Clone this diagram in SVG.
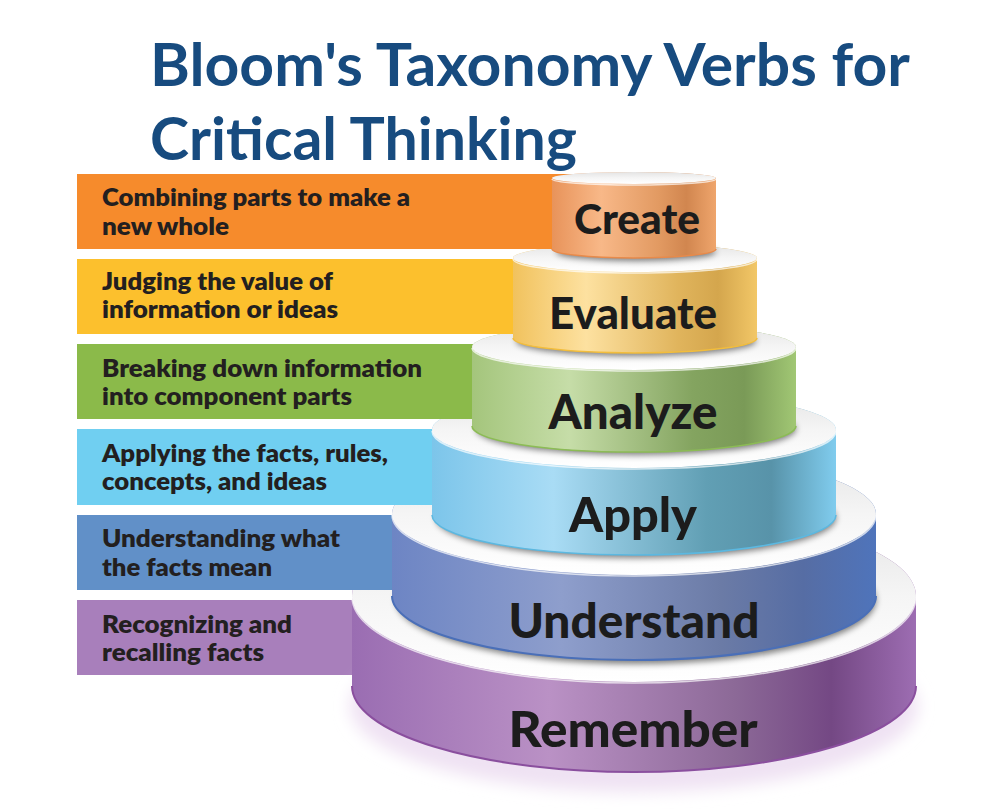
<svg xmlns="http://www.w3.org/2000/svg" width="1000" height="809" viewBox="0 0 1000 809">
<defs>
<style>
.title{font-family:Lato,"Open Sans","Liberation Sans",sans-serif;font-weight:700;font-size:60px;fill:#174b7f}
.desc{font-family:Lato,"Liberation Sans",sans-serif;font-weight:800;font-size:24px;fill:#231f20}
.lbl{font-family:Lato,"Liberation Sans",sans-serif;font-weight:900;fill:#1c1c1c;text-anchor:middle}
.top{fill:url(#gTop)}
.rim{fill:none;stroke:#ffffff;stroke-opacity:0.7;stroke-width:1.5}
.shadow{fill:#000;opacity:0.5;filter:url(#blur3)}
</style>
<filter id="blur3" x="-20%" y="-50%" width="140%" height="200%"><feGaussianBlur stdDeviation="3"/></filter>
<filter id="blur8" x="-20%" y="-50%" width="140%" height="200%"><feGaussianBlur stdDeviation="8"/></filter>
<linearGradient id="gTop" x1="0" y1="0" x2="0" y2="1">
<stop offset="0" stop-color="#e4e4e4"/><stop offset="0.5" stop-color="#f5f5f5"/><stop offset="1" stop-color="#ffffff"/>
</linearGradient>
<linearGradient id="gCreate" x1="0" y1="0" x2="1" y2="0">
<stop offset="0" stop-color="#e8935a"/><stop offset="0.3" stop-color="#f8b888"/><stop offset="0.65" stop-color="#e29a62"/><stop offset="0.82" stop-color="#d1864f"/><stop offset="1" stop-color="#efa56c"/>
</linearGradient>
<linearGradient id="gEvaluate" x1="0" y1="0" x2="1" y2="0">
<stop offset="0" stop-color="#f1c25d"/><stop offset="0.3" stop-color="#fde1a0"/><stop offset="0.68" stop-color="#e0b45c"/><stop offset="0.84" stop-color="#d4a64d"/><stop offset="1" stop-color="#f2c767"/>
</linearGradient>
<linearGradient id="gAnalyze" x1="0" y1="0" x2="1" y2="0">
<stop offset="0" stop-color="#a4c57c"/><stop offset="0.3" stop-color="#c6dda8"/><stop offset="0.68" stop-color="#84a460"/><stop offset="0.84" stop-color="#7a9a57"/><stop offset="1" stop-color="#a1c774"/>
</linearGradient>
<linearGradient id="gApply" x1="0" y1="0" x2="1" y2="0">
<stop offset="0" stop-color="#7cc5ea"/><stop offset="0.3" stop-color="#a9dcf5"/><stop offset="0.68" stop-color="#619fb4"/><stop offset="0.84" stop-color="#5893a9"/><stop offset="1" stop-color="#80ccee"/>
</linearGradient>
<linearGradient id="gUnderstand" x1="0" y1="0" x2="1" y2="0">
<stop offset="0" stop-color="#6d85c4"/><stop offset="0.35" stop-color="#8e9ecc"/><stop offset="0.68" stop-color="#6b7ba6"/><stop offset="0.85" stop-color="#566da4"/><stop offset="1" stop-color="#4f74bb"/>
</linearGradient>
<linearGradient id="gRemember" x1="0" y1="0" x2="1" y2="0">
<stop offset="0" stop-color="#9a6db2"/><stop offset="0.35" stop-color="#ba91c5"/><stop offset="0.68" stop-color="#8c6997"/><stop offset="0.85" stop-color="#744884"/><stop offset="1" stop-color="#9d6db2"/>
</linearGradient>
</defs>
<rect width="1000" height="809" fill="#ffffff"/>

<g id="title">
<text class="title" x="150" y="86" textLength="760" lengthAdjust="spacingAndGlyphs">Bloom's Taxonomy Verbs for</text>
<text class="title" x="150" y="160" textLength="427" lengthAdjust="spacingAndGlyphs">Critical Thinking</text>
</g>

<g id="connectors"></g>

<g id="tier-remember">
<rect x="77" y="600" width="300" height="75" fill="#a87fbb"/>
<ellipse cx="634" cy="706" rx="284" ry="86" fill="#efe2f3" filter="url(#blur8)"/>
<path d="M352,596 L352,686 A282,86 0 0 0 916,686 L916,596 A282,86 0 0 0 352,596 Z" fill="url(#gRemember)"/>
<path d="M352,686 A282,86 0 0 0 916,686" fill="none" stroke="#8a4f9e" stroke-width="2"/>
<ellipse class="top" cx="634" cy="596" rx="282" ry="86"/>
<path class="rim" d="M352,597 A282,86 0 0 0 916,597"/>
<text class="lbl" x="633" y="747" font-size="50" textLength="249" lengthAdjust="spacingAndGlyphs">Remember</text>
</g>

<g id="tier-understand">
<rect x="77" y="515" width="340" height="75" fill="#6190c8"/>
<ellipse class="shadow" cx="636" cy="600" rx="240" ry="64"/>
<path d="M392,514 L392,596 A242,64 0 0 0 876,596 L876,514 A242,61 0 0 0 392,514 Z" fill="url(#gUnderstand)"/>
<path d="M392,596 A242,64 0 0 0 876,596" fill="none" stroke="#4a6fb8" stroke-width="2"/>
<ellipse class="top" cx="634" cy="514" rx="242" ry="61"/>
<path class="rim" d="M392,515 A242,61 0 0 0 876,515"/>
<text class="lbl" x="634" y="638" font-size="48" textLength="251" lengthAdjust="spacingAndGlyphs">Understand</text>
</g>

<g id="tier-apply">
<rect x="77" y="429" width="380" height="76" fill="#70cff1"/>
<ellipse class="shadow" cx="636" cy="518" rx="200" ry="40"/>
<path d="M432,430 L432,515 A202,40 0 0 0 836,515 L836,430 A202,38 0 0 0 432,430 Z" fill="url(#gApply)"/>
<path d="M432,515 A202,40 0 0 0 836,515" fill="none" stroke="#5cb8e0" stroke-width="1.5"/>
<ellipse class="top" cx="634" cy="430" rx="202" ry="38"/>
<path class="rim" d="M432,431 A202,38 0 0 0 836,431"/>
<text class="lbl" x="633" y="532" font-size="48" textLength="128" lengthAdjust="spacingAndGlyphs">Apply</text>
</g>

<g id="tier-analyze">
<rect x="77" y="344" width="420" height="75" fill="#8bba4a"/>
<ellipse class="shadow" cx="636" cy="429" rx="160" ry="26"/>
<path d="M472,347 L472,426 A162,26 0 0 0 796,426 L796,347 A162,23 0 0 0 472,347 Z" fill="url(#gAnalyze)"/>
<path d="M472,426 A162,26 0 0 0 796,426" fill="none" stroke="#8cbc55" stroke-width="1.5"/>
<ellipse class="top" cx="634" cy="347" rx="162" ry="23"/>
<path class="rim" d="M472,348 A162,23 0 0 0 796,348"/>
<text class="lbl" x="633" y="429" font-size="47" textLength="169" lengthAdjust="spacingAndGlyphs">Analyze</text>
</g>

<g id="tier-evaluate">
<rect x="77" y="259" width="460" height="75" fill="#fcc02d"/>
<ellipse class="shadow" cx="636" cy="341" rx="120" ry="15"/>
<path d="M513,258 L513,338 A122,15 0 0 0 757,338 L757,258 A122,14 0 0 0 513,258 Z" fill="url(#gEvaluate)"/>
<path d="M513,338 A122,15 0 0 0 757,338" fill="none" stroke="#f2bd3c" stroke-width="1.5"/>
<ellipse class="top" cx="635" cy="258" rx="122" ry="14"/>
<path class="rim" d="M513,259 A122,14 0 0 0 757,259"/>
<text class="lbl" x="633" y="329" font-size="44" textLength="168" lengthAdjust="spacingAndGlyphs">Evaluate</text>
</g>

<g id="tier-create">
<rect x="77" y="174" width="495" height="75" fill="#f68b2c"/>
<ellipse class="shadow" cx="636" cy="252" rx="80" ry="9"/>
<path d="M552,178 L552,249 A82,9 0 0 0 716,249 L716,178 A82,6 0 0 0 552,178 Z" fill="url(#gCreate)"/>
<path d="M552,249 A82,9 0 0 0 716,249" fill="none" stroke="#e88a4a" stroke-width="1.5"/>
<ellipse class="top" cx="634" cy="178" rx="82" ry="6"/>
<path class="rim" d="M552,179 A82,6 0 0 0 716,179"/>
<text class="lbl" x="637" y="234" font-size="41" textLength="126" lengthAdjust="spacingAndGlyphs">Create</text>
</g>

<g id="descriptions">
<text class="desc" x="102" y="206" textLength="308" lengthAdjust="spacingAndGlyphs">Combining parts to make a</text>
<text class="desc" x="102" y="235" textLength="127" lengthAdjust="spacingAndGlyphs">new whole</text>
<text class="desc" x="102" y="290" textLength="231" lengthAdjust="spacingAndGlyphs">Judging the value of</text>
<text class="desc" x="102" y="318" textLength="236" lengthAdjust="spacingAndGlyphs">information or ideas</text>
<text class="desc" x="102" y="377" textLength="320" lengthAdjust="spacingAndGlyphs">Breaking down information</text>
<text class="desc" x="102" y="405" textLength="250" lengthAdjust="spacingAndGlyphs">into component parts</text>
<text class="desc" x="102" y="462" textLength="286" lengthAdjust="spacingAndGlyphs">Applying the facts, rules,</text>
<text class="desc" x="102" y="490" textLength="225" lengthAdjust="spacingAndGlyphs">concepts, and ideas</text>
<text class="desc" x="102" y="547" textLength="238" lengthAdjust="spacingAndGlyphs">Understanding what</text>
<text class="desc" x="102" y="576" textLength="170" lengthAdjust="spacingAndGlyphs">the facts mean</text>
<text class="desc" x="102" y="633" textLength="190" lengthAdjust="spacingAndGlyphs">Recognizing and</text>
<text class="desc" x="102" y="661" textLength="162" lengthAdjust="spacingAndGlyphs">recalling facts</text>
</g>
</svg>
